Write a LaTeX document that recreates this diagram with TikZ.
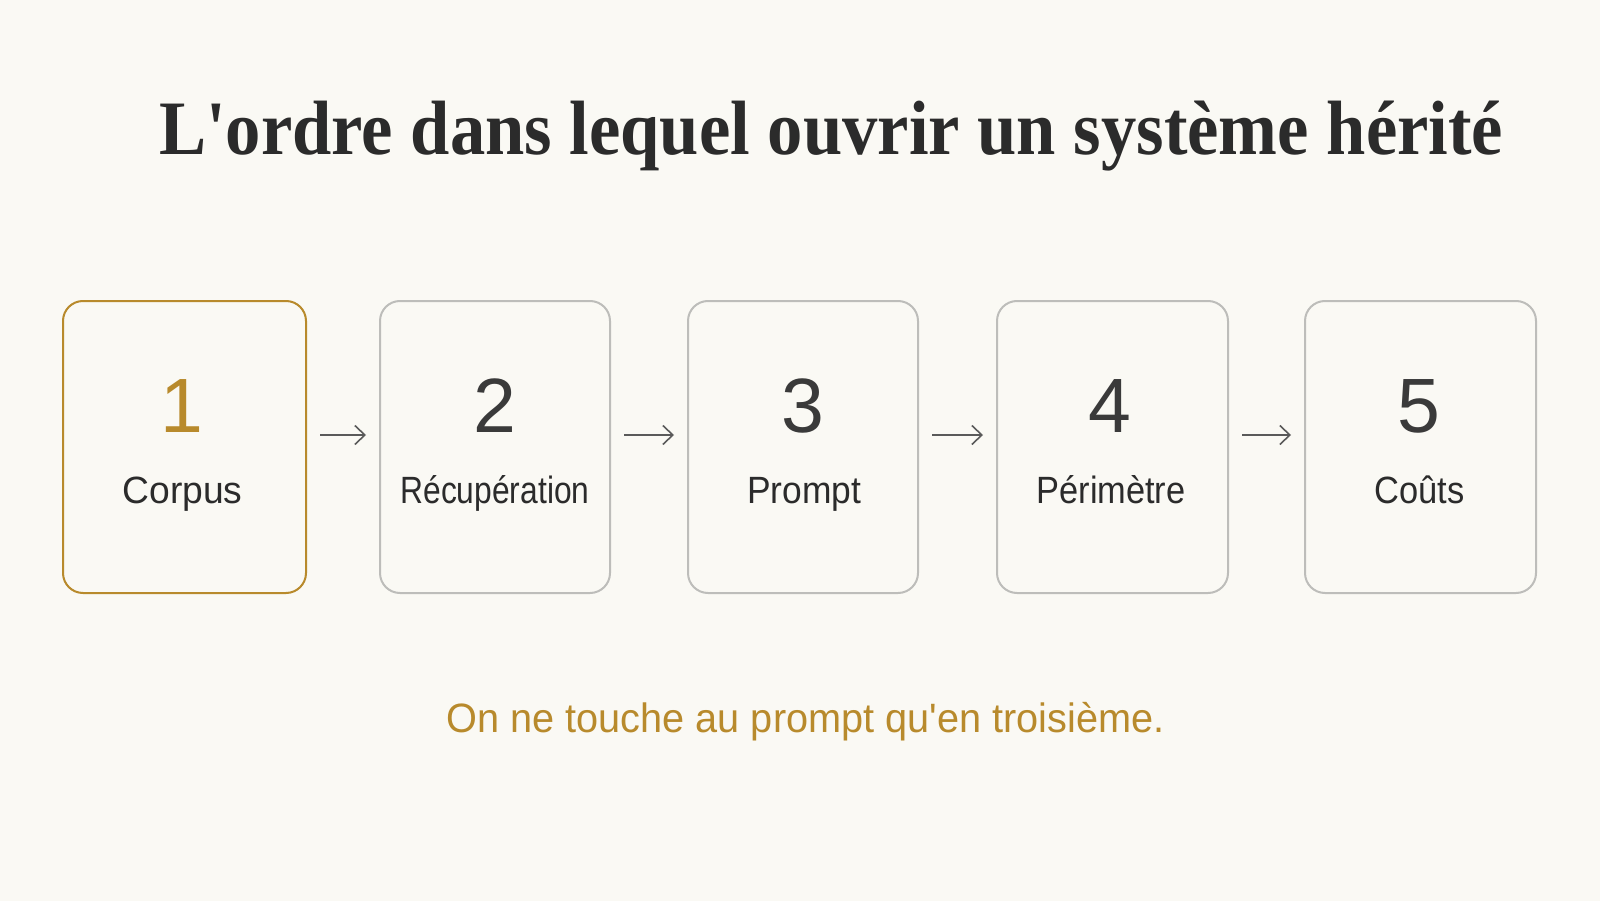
\documentclass[tikz,border=0pt]{standalone}
\usepackage{fontspec}
\usepackage{graphicx}
\setmainfont{Liberation Sans}
\newfontfamily\titlefont{Liberation Serif}
\usetikzlibrary{arrows.meta}
\definecolor{bg}{HTML}{FAF9F4}
\definecolor{gold}{HTML}{B88A2C}
\definecolor{boxgray}{HTML}{BDBDBA}
\definecolor{ink}{HTML}{2B2B2B}
\definecolor{digitink}{HTML}{3A3A3A}
\definecolor{arrowgray}{HTML}{5A5A5A}
\newcommand{\fitw}[2]{\resizebox{#1}{\height}{#2}}
\begin{document}
\begin{tikzpicture}[x=1pt,y=-1pt,
  stepbox/.style={draw=boxgray, line width=2pt, rounded corners=20pt, outer sep=0pt, inner sep=0pt, minimum height=292pt},
  activebox/.style={stepbox, draw=gold},
  digitlabel/.style={anchor=base, inner sep=0pt, text=digitink, font=\fontsize{77}{80}\selectfont},
  steplabel/.style={anchor=base, inner sep=0pt, text=ink, font=\fontsize{38}{42}\selectfont},
  flowarrow/.style={draw=arrowgray, line width=1.6pt, -{Straight Barb[length=10pt,width=19pt]}}
]
\fill[bg] (0,0) rectangle (1600,901);
\useasboundingbox (0,0) rectangle (1600,901);

\node[anchor=base west, inner sep=0pt, text=ink] (title) at (159,155)
  {\resizebox{1344pt}{\height}{\titlefont\bfseries\fontsize{77}{80}\selectfont L\textquotesingle ordre dans lequel ouvrir un système hérité}};

\node[activebox, minimum width=243pt] (b1) at (184.5,447) {};
\node[stepbox, minimum width=230pt] (b2) at (495,447) {};
\node[stepbox, minimum width=230pt] (b3) at (803,447) {};
\node[stepbox, minimum width=231pt] (b4) at (1112.5,447) {};
\node[stepbox, minimum width=231pt] (b5) at (1420.5,447) {};

\node[digitlabel, text=gold] (d1) at (182,432) {1};
\node[digitlabel] (d2) at (495,432) {2};
\node[digitlabel] (d3) at (803,432) {3};
\node[digitlabel] (d4) at (1110,432) {4};
\node[digitlabel] (d5) at (1419,432) {5};

\node[steplabel] (l1) at (182.5,503) {\fitw{120pt}{Corpus}};
\node[steplabel] (l2) at (495,503) {\fitw{189pt}{Récupération}};
\node[steplabel] (l3) at (804,503) {\fitw{114pt}{Prompt}};
\node[steplabel] (l4) at (1111,503) {\fitw{149pt}{Périmètre}};
\node[steplabel] (l5) at (1419.5,503) {\fitw{90pt}{Coûts}};

\draw[flowarrow] ([xshift=14pt,yshift=12pt]b1.east) -- ([xshift=-14pt,yshift=12pt]b2.west);
\draw[flowarrow] ([xshift=14pt,yshift=12pt]b2.east) -- ([xshift=-14pt,yshift=12pt]b3.west);
\draw[flowarrow] ([xshift=14pt,yshift=12pt]b3.east) -- ([xshift=-14pt,yshift=12pt]b4.west);
\draw[flowarrow] ([xshift=14pt,yshift=12pt]b4.east) -- ([xshift=-14pt,yshift=12pt]b5.west);

\node[anchor=base, inner sep=0pt, text=gold, font=\fontsize{41}{46}\selectfont] (note) at (805.5,732)
  {\fitw{718pt}{On ne touche au prompt qu\textquotesingle en troisième.}};
\end{tikzpicture}
\end{document}
